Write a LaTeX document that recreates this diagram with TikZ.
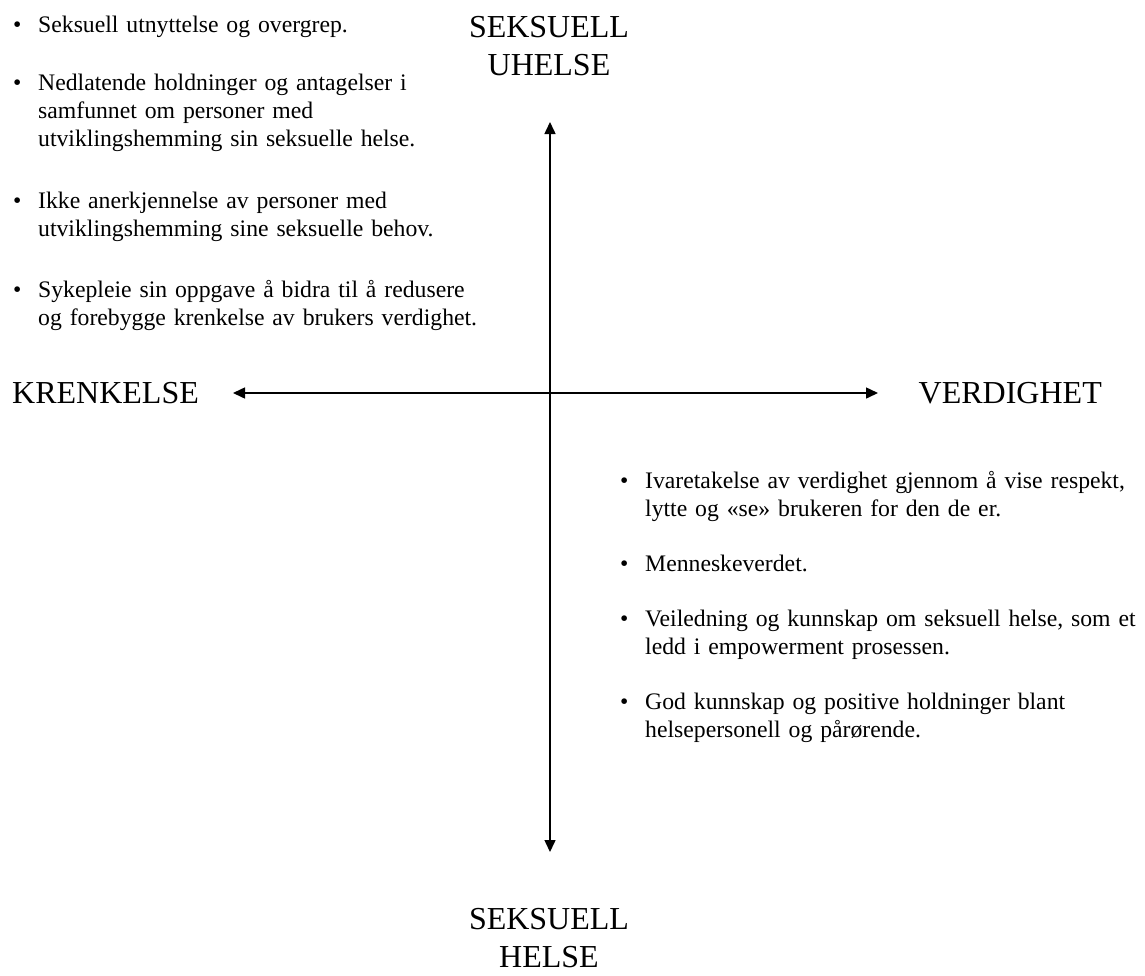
\documentclass[tikz,border=0pt]{standalone}
\usepackage{fontspec}
\setmainfont{Liberation Serif}
\usetikzlibrary{arrows.meta}

\tikzstyle{lS}=[inner sep = 0pt, font=\fontsize{32}{38.3}\selectfont, text width=220pt, align=center]
\tikzstyle{bS}=[inner sep = 0pt, font=\fontsize{23.7}{28.3}\selectfont]
\tikzstyle{tS}=[inner sep = 0pt, font=\fontsize{23.7}{28.3}\selectfont, text width=520pt, align=left]
\tikzstyle{aS}=[line width=1.5pt, {Triangle[length=12pt,width=11pt]}-{Triangle[length=12pt,width=11pt]}]

\begin{document}
\begin{tikzpicture}[x=1pt, y=-1pt]
                \useasboundingbox (0,0) rectangle (1145,975);
                % axes
                \coordinate (aT) at (550,122);
                \coordinate (aB) at (550,852);
                \coordinate (aL) at (233,393);
                \coordinate (aR) at (878,393);
                \draw[aS] (aT) -- (aB);
                \draw[aS] (aL) -- (aR);
                % axis labels
                \draw (12,393) node[anchor=west, inner sep = 0pt, font=\fontsize{32}{38.3}\selectfont] (kr) {KRENKELSE};
                \draw (1102,393) node[anchor=east, inner sep = 0pt, font=\fontsize{32}{38.3}\selectfont] (ve) {VERDIGHET};
                \draw (549,37) node[lS, anchor=base] (su) {SEKSUELL\\UHELSE};
                \draw (549,929) node[lS, anchor=base] (sh) {SEKSUELL\\HELSE};
                % krenkelse side
                \draw (13,32) node[bS, anchor=base west] (b1) {\textbullet};
                \draw (38,32) node[tS, anchor=base west] (t1) {Seksuell utnyttelse og overgrep.};
                \draw (13,90) node[bS, anchor=base west] (b2) {\textbullet};
                \draw (38,90) node[tS, anchor=base west] (t2) {Nedlatende holdninger og antagelser i\\samfunnet om personer med\\utviklingshemming sin seksuelle helse.};
                \draw (13,208) node[bS, anchor=base west] (b3) {\textbullet};
                \draw (38,208) node[tS, anchor=base west] (t3) {Ikke anerkjennelse av personer med\\utviklingshemming sine seksuelle behov.};
                \draw (13,297) node[bS, anchor=base west] (b4) {\textbullet};
                \draw (38,297) node[tS, anchor=base west] (t4) {Sykepleie sin oppgave å bidra til å redusere\\og forebygge krenkelse av brukers verdighet.};
                % verdighet side
                \draw (620,488) node[bS, anchor=base west] (b5) {\textbullet};
                \draw (645,488) node[tS, anchor=base west] (t5) {Ivaretakelse av verdighet gjennom å vise respekt,\\lytte og «se» brukeren for den de er.};
                \draw (620,571) node[bS, anchor=base west] (b6) {\textbullet};
                \draw (645,571) node[tS, anchor=base west] (t6) {Menneskeverdet.};
                \draw (620,626) node[bS, anchor=base west] (b7) {\textbullet};
                \draw (645,626) node[tS, anchor=base west] (t7) {Veiledning og kunnskap om seksuell helse, som et\\ledd i empowerment prosessen.};
                \draw (620,709) node[bS, anchor=base west] (b8) {\textbullet};
                \draw (645,709) node[tS, anchor=base west] (t8) {God kunnskap og positive holdninger blant\\helsepersonell og pårørende.};
        \end{tikzpicture}
\end{document}
